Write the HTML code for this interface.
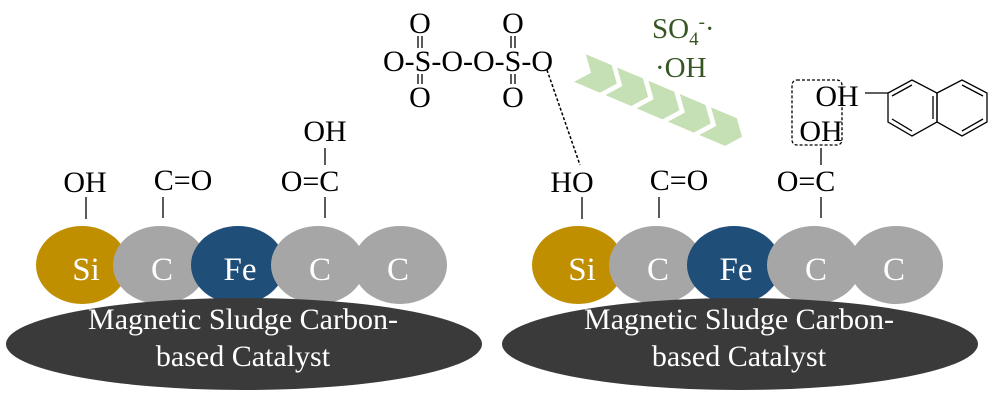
<!DOCTYPE html>
<html><head><meta charset="utf-8"><style>
html,body{margin:0;padding:0;background:#fff;}
svg{display:block;}
text{font-family:"Liberation Serif",serif;}
</style></head><body>
<svg width="1000" height="400" viewBox="0 0 1000 400" xmlns="http://www.w3.org/2000/svg">
<defs>
<g id="cat">
  <ellipse cx="82" cy="265" rx="46" ry="39" fill="#bf8f00"/>
  <ellipse cx="160" cy="265" rx="47" ry="39" fill="#a6a6a6"/>
  <ellipse cx="400" cy="265" rx="47" ry="39" fill="#a6a6a6"/>
  <ellipse cx="238" cy="265" rx="47" ry="39" fill="#1f4e79"/>
  <ellipse cx="318" cy="265" rx="47" ry="39" fill="#a6a6a6"/>
  <ellipse cx="244" cy="344" rx="238" ry="46" fill="#3a3a3a"/>
  <g fill="#fff" font-size="33" text-anchor="middle">
    <text x="86" y="280">Si</text>
    <text x="162" y="280">C</text>
    <text x="240" y="280">Fe</text>
    <text x="320" y="280">C</text>
    <text x="398" y="280">C</text>
  </g>
  <g fill="#fff" font-size="30" text-anchor="middle">
    <text x="243" y="329">Magnetic Sludge Carbon-</text>
    <text x="243" y="366">based Catalyst</text>
  </g>
  <g stroke="#000" stroke-width="1.3">
    <line x1="86" y1="197" x2="86" y2="219"/>
    <line x1="163" y1="197" x2="163" y2="218"/>
    <line x1="325" y1="197" x2="325" y2="218"/>
    <line x1="325" y1="148" x2="325" y2="165"/>
  </g>
  <g fill="#000" font-size="30">
    <text x="183" y="190" text-anchor="middle">C=O</text>
    <text x="310" y="191" text-anchor="middle">O=C</text>
    <text x="325" y="141" text-anchor="middle">OH</text>
  </g>
</g>
</defs>
<use href="#cat"/>
<text x="85" y="192" font-size="30" text-anchor="middle">OH</text>
<use href="#cat" transform="translate(496,0)"/>
<text x="572" y="192" font-size="30" text-anchor="middle">HO</text>
<!-- persulfate -->
<g font-size="30" fill="#000">
  <text x="383" y="71" textLength="170">O-S-O-O-S-O</text>
  <text x="420" y="33" text-anchor="middle">O</text>
  <text x="420" y="107" text-anchor="middle">O</text>
  <text x="513" y="33" text-anchor="middle">O</text>
  <text x="513" y="107" text-anchor="middle">O</text>
</g>
<g stroke="#000" stroke-width="1.3">
  <line x1="418" y1="36" x2="418" y2="48"/><line x1="422" y1="36" x2="422" y2="48"/>
  <line x1="418" y1="74" x2="418" y2="84"/><line x1="422" y1="74" x2="422" y2="84"/>
  <line x1="511" y1="36" x2="511" y2="48"/><line x1="515" y1="36" x2="515" y2="48"/>
  <line x1="511" y1="74" x2="511" y2="84"/><line x1="515" y1="74" x2="515" y2="84"/>
</g>
<line x1="547" y1="70" x2="580" y2="165" stroke="#000" stroke-width="1.5" stroke-dasharray="3,2"/>
<!-- radicals -->
<g fill="#375623" font-size="29">
  <text x="652" y="38">SO<tspan font-size="19" dy="7">4</tspan><tspan font-size="19" dy="-17">-</tspan><tspan dy="10">·</tspan></text>
  <text x="655" y="77">·OH</text>
</g>
<!-- chevrons -->
<g fill="#c5e0b4" transform="translate(580,68) rotate(23)">
  <polygon points="0,-15 28,-15 40,0 28,15 0,15 12,0"/>
  <polygon points="0,-15 28,-15 40,0 28,15 0,15 12,0" transform="translate(34,0)"/>
  <polygon points="0,-15 28,-15 40,0 28,15 0,15 12,0" transform="translate(68,0)"/>
  <polygon points="0,-15 28,-15 40,0 28,15 0,15 12,0" transform="translate(102,0)"/>
  <polygon points="0,-15 28,-15 40,0 28,15 0,15 12,0" transform="translate(136,0)"/>
</g>
<!-- right top -->
<rect x="792" y="80" width="50" height="65" rx="5" fill="none" stroke="#000" stroke-width="1.3" stroke-dasharray="3,2"/>
<text x="837" y="106" font-size="30" text-anchor="middle">OH</text>
<line x1="865" y1="93" x2="888" y2="93" stroke="#000" stroke-width="1.3"/>
<g fill="none" stroke="#000" stroke-width="1.3">
  <polygon points="888,93 912,80 937,93 937,122 912,136 888,122"/>
  <polygon points="937,93 962,80 987,93 987,122 962,136 937,122"/>
  <line x1="892" y1="96" x2="912" y2="85"/>
  <line x1="892" y1="119" x2="912" y2="131"/>
  <line x1="933" y1="96" x2="933" y2="119"/>
  <line x1="962" y1="85" x2="983" y2="96"/>
  <line x1="983" y1="119" x2="962" y2="131"/>
</g>
</svg>
</body></html>
